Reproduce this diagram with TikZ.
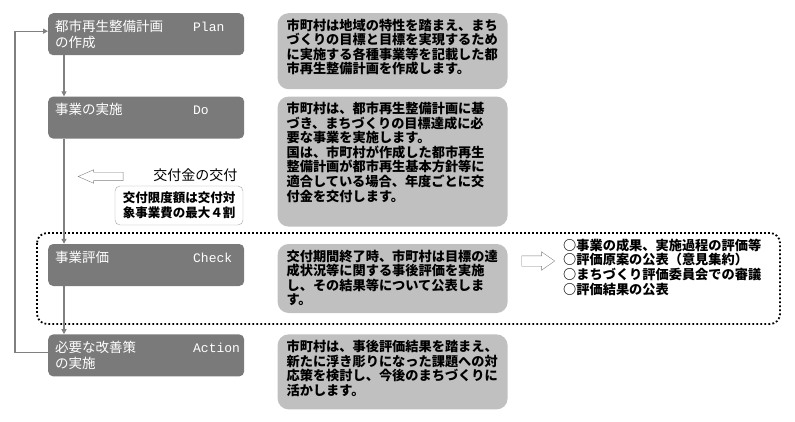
\documentclass[tikz,border=0pt]{standalone}
\usepackage{fontspec}
\setmainfont{Noto Sans CJK JP}
\newfontfamily\stagelatin{Liberation Mono}
\usepackage{tikz}
\usetikzlibrary{arrows.meta,positioning,shapes.arrows}
\definecolor{stagegrey}{RGB}{122,122,122}
\definecolor{memogrey}{RGB}{192,192,192}
\definecolor{linegrey}{RGB}{128,128,128}

\begin{document}
\begin{tikzpicture}[x=1pt,y=-1pt,>={Triangle[length=5pt,width=5pt]},node distance=33pt]
  \tikzstyle{stage}=[fill=stagegrey,rounded corners=5pt,text width=182pt,inner xsep=7pt,inner ysep=6pt,text height=12pt,text depth=18pt,align=left,text=white,font=\fontsize{13.5}{16}\selectfont]
  \tikzstyle{memo}=[fill=memogrey,rounded corners=11pt,text width=212pt,inner xsep=9pt,inner ysep=6pt,text height=11pt,align=left,font=\bfseries\fontsize{13.2}{14.6}\selectfont]
  \tikzstyle{hollow}=[single arrow,draw=linegrey,fill=white,inner sep=0pt,single arrow head indent=0pt]
  \tikzstyle{flow}=[->,draw=linegrey,line width=1.2pt]
  \tikzstyle{frame}=[draw=black,line width=1.8pt,dash pattern=on 1.8pt off 2.2pt,rounded corners=10pt]
  \useasboundingbox (0,0) rectangle (795,422);
  % PDCA stages
  \node[stage,anchor=north west] (plan) at (48,13) {\makebox[138pt][l]{都市再生整備計画}{\stagelatin\fontsize{13}{16}\selectfont Plan}\\の作成};
  \node[stage,below=41pt of plan] (do) {\makebox[138pt][l]{事業の実施}{\stagelatin\fontsize{13}{16}\selectfont Do}};
  \node[stage,below=105pt of do] (check) {\makebox[138pt][l]{事業評価}{\stagelatin\fontsize{13}{16}\selectfont Check}};
  \node[stage,below=48pt of check] (action) {\makebox[138pt][l]{必要な改善策}{\stagelatin\fontsize{13}{16}\selectfont Action}\\の実施};
  % explanations
  \node[memo,right=of plan.north east,anchor=north west,text depth=53pt] (planMemo) {市町村は地域の特性を踏まえ、まち\\づくりの目標と目標を実現するため\\に実施する各種事業等を記載した都\\市再生整備計画を作成します。};
  \node[memo,right=of do.north east,anchor=north west,text depth=107pt] (doMemo) {市町村は、都市再生整備計画に基\\づき、まちづくりの目標達成に必\\要な事業を実施します。\\国は、市町村が作成した都市再生\\整備計画が都市再生基本方針等に\\適合している場合、年度ごとに交\\付金を交付します。};
  \node[memo,right=of check.north east,anchor=north west,text depth=46pt] (checkMemo) {交付期間終了時、市町村は目標の達\\成状況等に関する事後評価を実施\\し、その結果等について公表しま\\す。};
  \node[memo,right=of action.north east,anchor=north west,text depth=52pt] (actionMemo) {市町村は、事後評価結果を踏まえ、\\新たに浮き彫りになった課題への対\\応策を検討し、今後のまちづくりに\\活かします。};
  % grant
  \node[hollow,shape border rotate=180,text height=4pt,text depth=4pt,minimum height=45pt,single arrow head extend=2.5pt,single arrow tip angle=47] (grantArrow) at (105.5,176.5) {};
  \node[anchor=east,font=\fontsize{14}{16}\selectfont] (grantLabel) at (241,175) {交付金の交付};
  \node[draw=linegrey!70,fill=white,rounded corners=5pt,minimum width=128pt,minimum height=39pt,align=left,font=\bfseries\fontsize{12.5}{15}\selectfont] (grantNote) at (179,205.5) {交付限度額は交付対\\象事業費の最大４割};
  % evaluation steps
  \draw[frame] (37,233) rectangle (780,324);
  \node[hollow,text height=5pt,text depth=5pt,minimum height=33pt,single arrow head extend=4pt,single arrow tip angle=70] (checkArrow) at (534.5,261) {};
  \node[anchor=north west,align=left,inner sep=0pt,font=\bfseries\fontsize{13.2}{14.7}\selectfont] (checkList) at (563,238.5) {○事業の成果、実施過程の評価等\\○評価原案の公表（意見集約）\\○まちづくり評価委員会での審議\\○評価結果の公表};
  % connectors
  \draw[flow] ([xshift=16pt]plan.south west) -- ([xshift=16pt]do.north west);
  \draw[flow] ([xshift=16pt]do.south west) -- ([xshift=16pt]check.north west);
  \draw[flow] ([xshift=16pt]check.south west) -- ([xshift=16pt]action.north west);
  \draw[flow] ([yshift=3pt]action.west) -- ++(-33,0) |- ([yshift=3pt]plan.west);
\end{tikzpicture}
\end{document}
